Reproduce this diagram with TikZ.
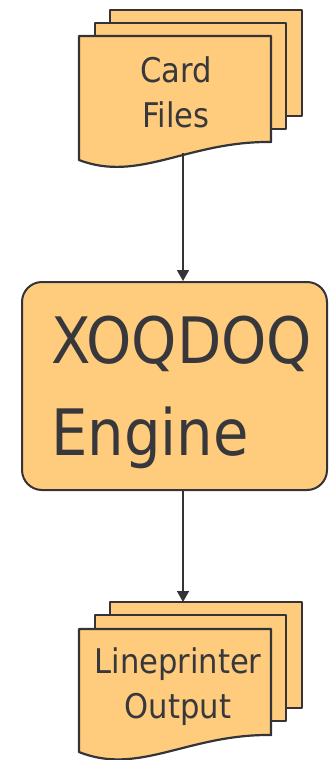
\documentclass[tikz,border=0pt]{standalone}
\usepackage{fontspec}
\usepackage{tikz}
\usetikzlibrary{arrows.meta}
\newfontfamily\flowfont{DejaVu Sans Condensed}

\begin{document}
\begin{tikzpicture}[x=1pt,y=1pt,
    sheet/.style={draw=cline,fill=cfill,line width=2.2pt,line join=round},
    enginebox/.style={draw=cline,fill=cfill,line width=2pt,rounded corners=20pt,
        minimum width=305pt,minimum height=208pt,inner sep=0pt},
    doctext/.style={text=ctext,align=center,inner sep=0pt,anchor=base,
        font=\flowfont\fontsize{34}{45}\selectfont},
    bigtext/.style={text=ctext,align=left,inner sep=0pt,anchor=base west,
        font=\flowfont\fontsize{64}{92}\selectfont},
    flow/.style={draw=cline,line width=1.6pt,-{Triangle[width=12pt,length=11pt]}}]
	\definecolor{cfill}{RGB}{254,204,124}
	\definecolor{cline}{RGB}{52,52,56}
	\definecolor{ctext}{RGB}{56,56,60}
	\useasboundingbox (0,0) rectangle (329,-760);
	%
	% card files
	\draw[sheet] (110,-10) rectangle (302,-116);
	\draw[sheet] (95,-23) rectangle (286,-129);
	\draw[sheet] (79,-36) -- (271,-36) -- (271,-142)
		.. controls (188,-141) and (139,-183) .. (79,-160) -- cycle;
	\coordinate (cardwave) at (183,-153);
	\node[doctext] (card) at (176,-127) {Card\\Files};
	%
	% engine
	\node[enginebox] (engine) at (174.5,-386) {};
	\node[bigtext] (enginelabel) at (51,-455) {XOQDOQ\\Engine};
	%
	% lineprinter output
	\draw[sheet] (110,-602) rectangle (302,-708);
	\draw[sheet] (95,-615) rectangle (286,-721);
	\draw[sheet] (79,-629) -- (271,-629) -- (271,-735)
		.. controls (188,-734) and (139,-776) .. (79,-752) -- cycle;
	\coordinate (outtop) at (183,-602);
	\node[doctext] (output) at (178,-718) {Lineprinter\\Output};
	%
	\draw[flow] (cardwave) -- (cardwave |- engine.north);
	\draw[flow] (cardwave |- engine.south) -- (outtop);
	%
\end{tikzpicture}
\end{document}
